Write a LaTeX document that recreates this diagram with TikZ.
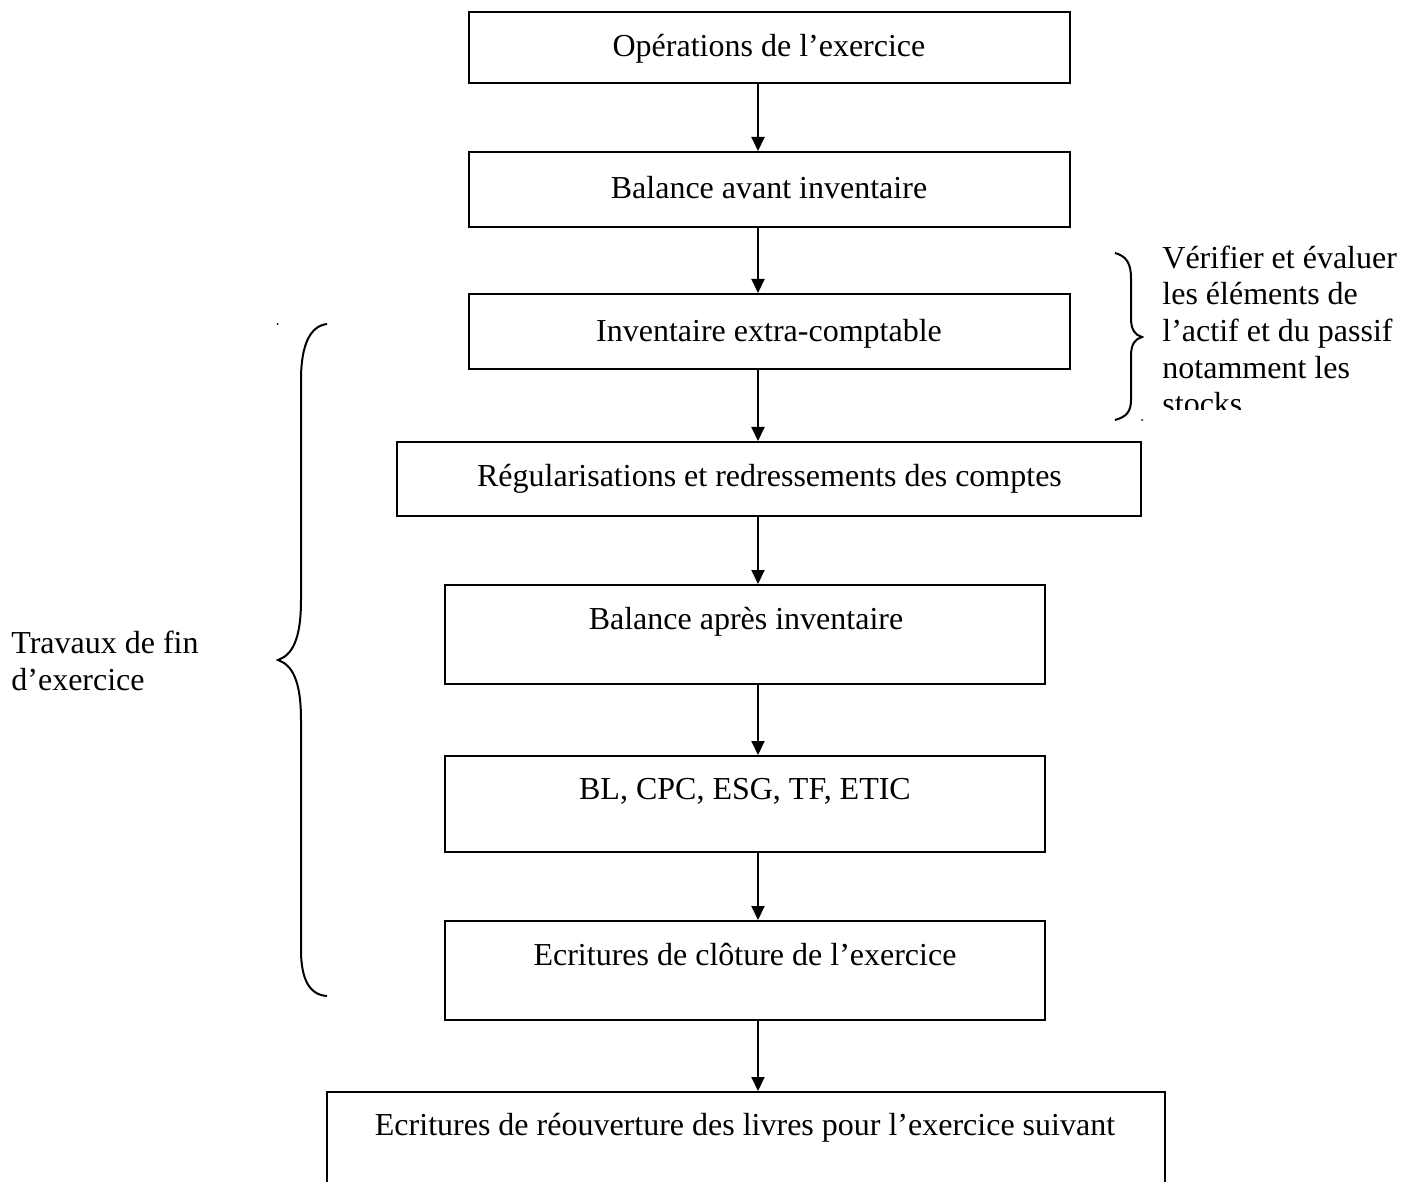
\documentclass[tikz,border=0pt]{standalone}
\usepackage{fontspec}
\setmainfont{Liberation Serif}
\usetikzlibrary{arrows.meta}
\begin{document}
\begin{tikzpicture}[x=0.5pt,y=-0.5pt,
  box/.style={draw, line width=1pt, rectangle, inner sep=0pt},
  lbl/.style={font=\fontsize{16}{18.35}\selectfont, inner sep=0pt, anchor=base},
  side/.style={font=\fontsize{16}{18.35}\selectfont, inner sep=0pt, anchor=base west, align=left},
  arr/.style={line width=1pt, -{Triangle[width=6.5pt,length=7pt]}},
  brace/.style={line width=1pt}]
\path[use as bounding box, clip] (0,0) rectangle (1415,1182);

% boxes
\node[box, minimum width=300.5pt, minimum height=35.5pt] (b1) at (769.5,47.5) {};
\node[box, minimum width=300.5pt, minimum height=37.5pt] (b2) at (769.5,189.5) {};
\node[box, minimum width=300.5pt, minimum height=37.5pt] (b3) at (769.5,331.5) {};
\node[box, minimum width=372pt, minimum height=37pt] (b4) at (769,479) {};
\node[box, minimum width=300pt, minimum height=49.5pt] (b5) at (745,634.5) {};
\node[box, minimum width=300pt, minimum height=48pt] (b6) at (745,804) {};
\node[box, minimum width=300pt, minimum height=49.5pt] (b7) at (745,970.5) {};
\node[box, minimum width=419pt, minimum height=69pt] (b8) at (746,1161) {};

% texts
\node[lbl] (t1) at (769,57) {Opérations de l’exercice};
\node[lbl] (t2) at (769,199) {Balance avant inventaire};
\node[lbl] (t3) at (769,342) {Inventaire extra-comptable};
\node[lbl] (t4) at (769.5,487) {Régularisations et redressements des comptes};
\node[lbl] (t5) at (746,629) {Balance après inventaire};
\node[lbl] (t6) at (745,799) {BL, CPC, ESG, TF, ETIC};
\node[lbl] (t7) at (745,965) {Ecritures de clôture de l’exercice};
\node[lbl] (t8) at (745,1135) {Ecritures de réouverture des livres pour l’exercice suivant};

% arrows
\coordinate (ax) at (758,0);
\draw[arr] (b1.south -| ax) -- (b2.north -| ax);
\draw[arr] (b2.south -| ax) -- (b3.north -| ax);
\draw[arr] (b3.south -| ax) -- (b4.north -| ax);
\draw[arr] (b4.south -| ax) -- (b5.north -| ax);
\draw[arr] (b5.south -| ax) -- (b6.north -| ax);
\draw[arr] (b6.south -| ax) -- (b7.north -| ax);
\draw[arr] (b7.south -| ax) -- (b8.north -| ax);

% left brace
\draw[brace] (327,324) .. controls (310,326) and (301,345) .. (301,380)
  -- (301,600) .. controls (301,640) and (292,655) .. (278,660)
  .. controls (292,665) and (301,680) .. (301,720)
  -- (301,950) .. controls (301,980) and (310,995) .. (327,996);
\fill (277.5,324) circle (1);
\node[side] (lt) at (11,690) {Travaux de fin\\d’exercice};

% right brace
\draw[brace] (1115,253) .. controls (1126,256) and (1131,263) .. (1131,278)
  -- (1131,318) .. controls (1131,330) and (1135,335) .. (1142,337)
  .. controls (1135,339) and (1131,344) .. (1131,356)
  -- (1131,400) .. controls (1131,412) and (1126,417) .. (1115,420);
\fill (1142,420) circle (1);
\begin{scope}
\clip (1150,230) rectangle (1415,410);
\node[side] (rt) at (1162,415) {Vérifier et évaluer\\les éléments de\\l’actif et du passif\\notamment les\\stocks};
\end{scope}
\end{tikzpicture}
\end{document}
